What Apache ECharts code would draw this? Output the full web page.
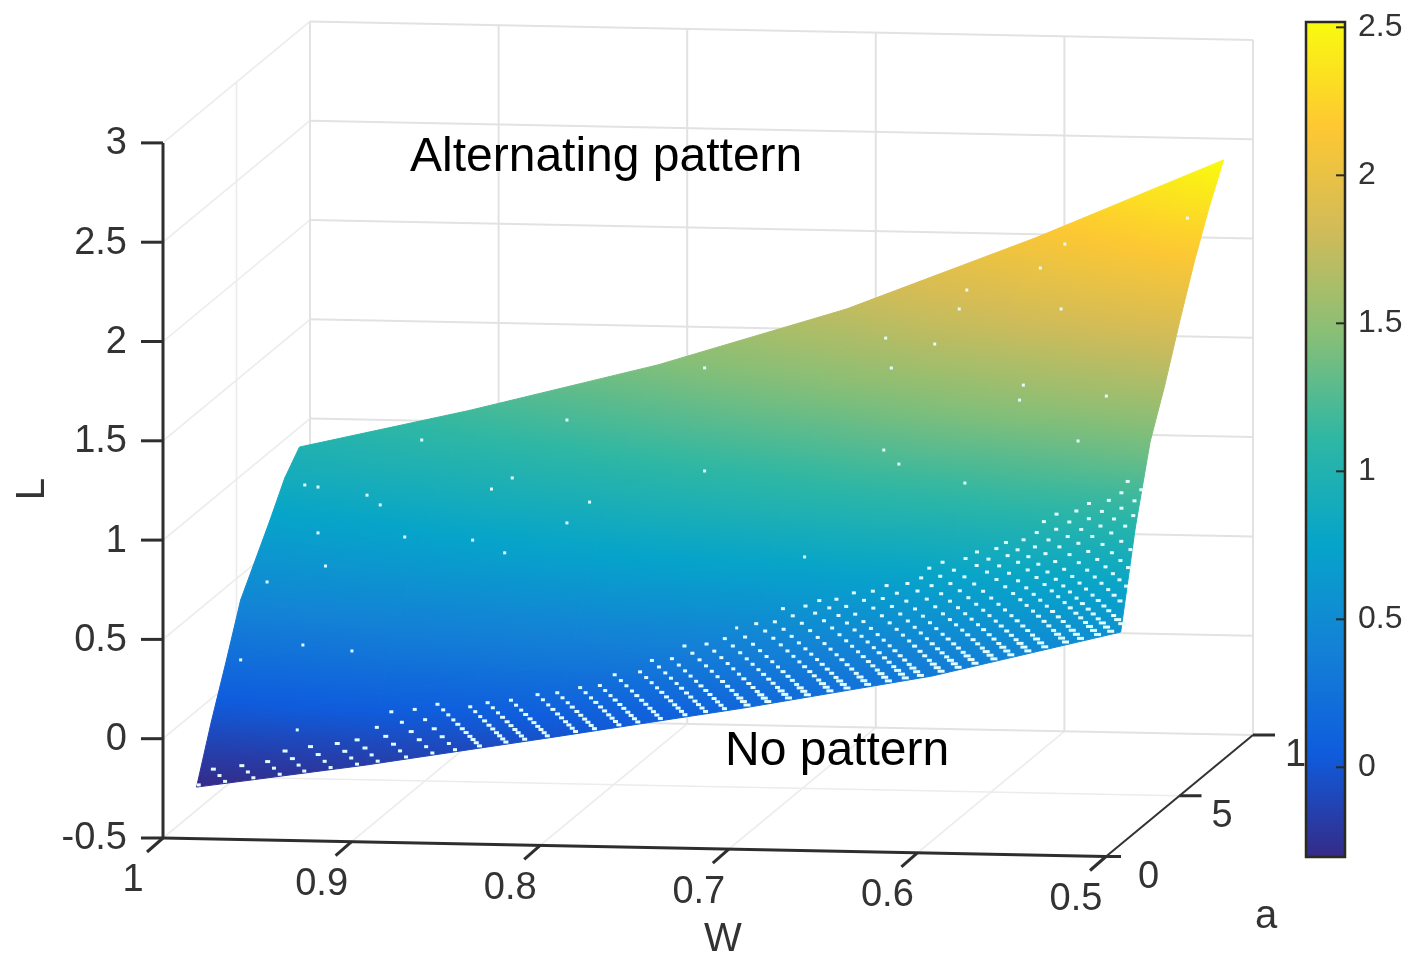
<!DOCTYPE html>
<html><head><meta charset="utf-8">
<style>html,body{margin:0;padding:0;background:#fff}#c{width:1411px;height:958px}</style>
<script src="https://cdn.jsdelivr.net/npm/echarts@6/dist/echarts.min.js"></script>
</head><body><div id="c"></div>
<script>
// ---- data ----
const wNodes = [0.99, 0.9, 0.8, 0.7, 0.6, 0.5];
const aNodes = [1, 2, 3, 4, 5, 6, 7, 8];
const L099 = [-0.303, -0.036, 0.204, 0.456, 0.596, 0.736, 0.886, 0.981];
const L090 = [-0.175, 0.124, 0.381, 0.598, 0.761, 0.924, 1.056, 1.182];
const L080 = [-0.015, 0.303, 0.577, 0.809, 0.982, 1.155, 1.296, 1.43];
const L070 = [0.149, 0.497, 0.797, 1.05, 1.24, 1.43, 1.583, 1.73];
const L060 = [0.329, 0.72, 1.058, 1.342, 1.555, 1.768, 1.941, 2.106];
const L050 = [0.569, 1.037, 1.404, 1.629, 1.885, 2.126, 2.337, 2.518];
const wTicks = [1, 0.9, 0.8, 0.7, 0.6, 0.5];
const aTicks = [0, 5, 10];
const lTicks = [-0.5, 0, 0.5, 1, 1.5, 2, 2.5, 3];
const cbTicks = [0, 0.5, 1, 1.5, 2, 2.5];
const cbMin = -0.303, cbMax = 2.518;
const parula = ['#352A87','#0F5CDD','#1481D6','#06A4CA','#2EB7A4','#87BF77','#D1BB59','#FEC832','#F9FB0E'];
// isolated holes in the surface, as [W, L] seen at a = 4
const specks = [[.956,1.041],[.949,1.032],[.923,.996],[.916,.948],[.903,.789],[.949,.801],[.945,.635],[.976,.549],
 [.990,.154],[.957,.235],[.931,.21],[.894,1.279],[.857,1.039],[.846,1.097],[.817,1.394],[.805,.983],[.817,.876],
 [.867,.78],[.85,.719],[.744,1.67],[.744,1.151],[.691,.728],[.648,1.838],[.622,1.813],[.645,1.688],[.649,1.274],
 [.641,1.205],[.606,1.116],[.605,2.088],[.609,1.992],[.555,2.002],[.566,2.206],[.553,2.329],[.488,2.472],
 [.575,1.615],[.577,1.539],[.531,1.568],[.546,1.339],[.727,.364],[.96,-.193]];
// diagonal rows of holes near the front edge: where each starts (W at a = 1) and how far it climbs (a)
const gapW = [.988,.974,.959,.945,.932,.918,.904,.893,.878,.864,.852,.839,.825,.815,.803,.788,.778,.765,.755,.743,.730,.719,
 .709,.697,.686,.675,.665,.653,.644,.633,.622,.613,.605,.594,.585,.576,.566,.557,.548,.539,.528,.520,.511,.504,
 .496,.487,.478,.469,.460,.451,.442,.433,.424];
const gapTop = [1.3,1.3,1.35,1.35,1.4,1.4,1.45,1.5,1.6,1.7,1.7,1.7,1.65,1.6,1.6,1.6,1.6,1.65,1.65,1.75,1.75,1.8,
 1.85,1.9,1.95,1.95,2,2.05,2.1,2.15,2.15,2.2,2.2,2.2,2.22,2.22,2.25,2.27,2.3,2.32,2.35,2.35,2.38,2.4,
 2.4,2.42,2.45,2.48,2.5,2.52,2.55,2.58,2.6];
const gapA = [1.03,1.08,1.13,1.18,1.24,1.30,1.37,1.44,1.52,1.60,1.69,1.79,1.90,2.02,2.15,2.29,2.44,2.60,2.77,2.95];

const lTable = [L099, L090, L080, L070, L060, L050];

// view of the 3-D box: W, a, L to the plane of the picture
function proj(W, a, L) {
  return [163 + (1 - W) * 1886 + a * 14.7, 838 + (1 - W) * 37 - a * 12.15 - (L + 0.5) * 198.6];
}
const FONT = '"Liberation Sans", Arial, sans-serif';

function lerpHex(c1, c2, t) {
  const p = (c, i) => parseInt(c.substr(1 + 2 * i, 2), 16);
  const m = i => Math.round(p(c1, i) + (p(c2, i) - p(c1, i)) * t);
  return 'rgb(' + m(0) + ',' + m(1) + ',' + m(2) + ')';
}
function colorAt(L) {
  let t = (L - cbMin) / (cbMax - cbMin);
  t = Math.max(0, Math.min(1, t)) * (parula.length - 1);
  const i = Math.min(parula.length - 2, Math.floor(t));
  return lerpHex(parula[i], parula[i + 1], t - i);
}

const cells = [];
for (let i = 0; i < wNodes.length - 1; i++) for (let j = 0; j < aNodes.length - 1; j++) cells.push([i, j]);

function renderCell(params, api) {
  const i = api.value(0), j = api.value(1);
  const idx = [[i, j], [i + 1, j], [i + 1, j + 1], [i, j + 1]];
  const pts = idx.map(n => api.coord(proj(wNodes[n[0]], aNodes[n[1]], lTable[n[0]][n[1]])));
  const vals = idx.map(n => lTable[n[0]][n[1]]);
  const mx = pts.reduce((s, p) => s + p[0], 0) / 4, my = pts.reduce((s, p) => s + p[1], 0) / 4, mv = vals.reduce((s, v) => s + v, 0) / 4;
  let sxx = 0, syy = 0, sxy = 0, sxv = 0, syv = 0;
  pts.forEach((p, k) => {
    const dx = p[0] - mx, dy = p[1] - my, dv = vals[k] - mv;
    sxx += dx * dx; syy += dy * dy; sxy += dx * dy; sxv += dx * dv; syv += dy * dv;
  });
  const det = sxx * syy - sxy * sxy;
  const gx = (sxv * syy - syv * sxy) / det, gy = (syv * sxx - sxv * sxy) / det;
  const g2 = gx * gx + gy * gy;
  const lo = mv - 1.2 * (mv - Math.min.apply(null, vals)), hi = mv + 1.2 * (Math.max.apply(null, vals) - mv);
  const x1 = mx + gx * (lo - mv) / g2, y1 = my + gy * (lo - mv) / g2;
  const x2 = mx + gx * (hi - mv) / g2, y2 = my + gy * (hi - mv) / g2;
  const stops = [];
  for (let k = 0; k <= 8; k++) stops.push({ offset: k / 8, color: colorAt(lo + (hi - lo) * k / 8) });
  const grad = new echarts.graphic.LinearGradient(x1, y1, x2, y2, stops, true);
  return { type: 'polygon', shape: { points: pts }, style: { fill: grad, stroke: grad, lineWidth: 1 } };
}

function lineSeries(rows, color, width, z, axisIndex) {
  const ai = axisIndex || 0;
  return {
    type: 'custom', coordinateSystem: 'cartesian2d', xAxisIndex: ai, yAxisIndex: ai, z: z, silent: true, clip: false,
    data: rows,
    renderItem: (p, api) => {
      const a = api.coord([api.value(0), api.value(1)]), b = api.coord([api.value(2), api.value(3)]);
      return { type: 'line', shape: { x1: a[0], y1: a[1], x2: b[0], y2: b[1] }, style: { stroke: color, lineWidth: width, fill: null } };
    }
  };
}
function seg(p, q) { return [p[0], p[1], q[0], q[1]]; }

// back wall grid
const gridRows = [];
lTicks.forEach(L => { gridRows.push(seg(proj(1, 10, L), proj(0.5, 10, L))); });
wTicks.forEach(W => { gridRows.push(seg(proj(W, 10, -0.5), proj(W, 10, 3))); });
// side wall and floor grid
const sideRows = [];
lTicks.forEach(L => { sideRows.push(seg(proj(1, 0, L), proj(1, 10, L))); });
wTicks.forEach(W => { sideRows.push(seg(proj(W, 0, -0.5), proj(W, 10, -0.5))); });
sideRows.push(seg(proj(1, 5, -0.5), proj(0.5, 5, -0.5)));
sideRows.push(seg(proj(1, 5, -0.5), proj(1, 5, 3)));

// axes and ticks
const axisRows = [
  seg(proj(1, 0, -0.5), proj(1, 0, 3)),
  seg(proj(1, 0, -0.5), proj(0.5, 0, -0.5))
];
const off = (p, dx, dy) => [p[0] + dx, p[1] + dy];
lTicks.forEach(L => { const p = proj(1, 0, L); axisRows.push(seg(p, off(p, -22, 0))); });
wTicks.forEach(W => { const p = proj(W, 0, -0.5); axisRows.push(seg(p, off(p, -16, 14))); });
aTicks.forEach(a => { const p = proj(0.5, a, -0.5); axisRows.push(seg(p, off(p, a === 0 ? 15 : 22, 0))); });
const aAxisRows = [seg(proj(0.5, 0, -0.5), proj(0.5, 10, -0.5))];

// tick labels
const labelRows = [];
lTicks.forEach(L => { const p = proj(1, 0, L); labelRows.push({ value: [p[0] - 36, p[1] + 1], t: String(L), align: 'right' }); });
wTicks.forEach(W => { const p = proj(W, 0, -0.5); labelRows.push({ value: [p[0] - 30, p[1] + 43], t: String(W), align: 'center' }); });
aTicks.forEach(a => { const p = proj(0.5, a, -0.5); labelRows.push({ value: [p[0] + 32, p[1] + 21], t: String(a), align: 'left' }); });

// colour bar ticks
const cbTickRows = cbTicks.map(v => [0.77, v, 1, v]);

// holes
const holes = specks.map(s => ({ value: proj(s[0], 4, s[1]), symbolSize: [3, 3] }));
gapW.forEach((w, n) => {
  const k = 0.036 + (0.99 - w) * 0.03;
  gapA.forEach((a0, r) => {
    if (a0 > gapTop[n]) return;
    if (w > 0.85 && r % 2 === 1) return;
    const a = a0 + (n % 2 ? (a0 - 1) * 0.03 : 0);
    const W = w + k * (a - 1);
    if (W > 0.99 || W < 0.5) return;
    let i = 0;
    while (i < wNodes.length - 2 && W < wNodes[i + 1]) i++;
    const f = (wNodes[i] - W) / (wNodes[i] - wNodes[i + 1]);
    const j = Math.min(aNodes.length - 2, Math.floor(a - 1));
    const g = a - aNodes[j];
    const L = (lTable[i][j] * (1 - f) + lTable[i + 1][j] * f) * (1 - g) + (lTable[i][j + 1] * (1 - f) + lTable[i + 1][j + 1] * f) * g;
    const low = w > 0.85 ? [4, 3] : (w > 0.7 ? [5, 3] : [7, 3]);
    holes.push({ value: proj(W, a, L), symbolSize: a < 1.15 ? low : (a < 1.4 ? [5, 3] : [4, 3]) });
  });
});

const option = {
  backgroundColor: '#fff',
  animation: false,
  tooltip: { show: false },
  grid: [
    { left: 0, right: 0, top: 0, bottom: 0 },
    { left: 1306, width: 39, top: 22, height: 835, z: 20 }
  ],
  xAxis: [
    { type: 'value', min: 0, max: 1411, show: false, gridIndex: 0 },
    { type: 'value', min: 0, max: 1, show: false, gridIndex: 1 }
  ],
  yAxis: [
    { type: 'value', min: 0, max: 958, inverse: true, show: false, gridIndex: 0 },
    {
      type: 'value', gridIndex: 1, position: 'right', min: cbMin, max: cbMax, z: 22,
      axisLine: { show: false }, splitLine: { show: false }, axisTick: { show: false },
      axisLabel: { show: true, customValues: cbTicks, margin: 13, color: '#333', fontFamily: FONT, fontSize: 32, formatter: v => String(v), hideOverlap: false }
    }
  ],
  series: [
    lineSeries(sideRows, '#ececec', 1.6, 1),
    lineSeries(gridRows, '#e2e2e2', 2, 1),
    {
      type: 'custom', coordinateSystem: 'cartesian2d', xAxisIndex: 0, yAxisIndex: 0, z: 2, silent: true, clip: false,
      data: cells, renderItem: renderCell
    },
    {
      type: 'scatter', coordinateSystem: 'cartesian2d', xAxisIndex: 0, yAxisIndex: 0, z: 3, silent: true,
      symbol: 'rect', data: holes, itemStyle: { color: '#dffcff', opacity: 1 }
    },
    lineSeries(axisRows, '#2e2e2e', 3, 4),
    lineSeries(aAxisRows, '#333', 2, 4),
    {
      type: 'custom', coordinateSystem: 'cartesian2d', xAxisIndex: 0, yAxisIndex: 0, z: 4, silent: true, clip: false,
      data: labelRows,
      renderItem: (p, api) => {
        const row = labelRows[p.dataIndex], c = api.coord(row.value);
        return { type: 'text', style: { text: row.t, x: c[0], y: c[1], align: row.align, verticalAlign: 'middle', fill: '#333', font: '38px ' + FONT } };
      }
    },
    {
      type: 'custom', coordinateSystem: 'cartesian2d', xAxisIndex: 1, yAxisIndex: 1, z: 20, silent: true, clip: false,
      data: [[0, cbMin, 1, cbMax]],
      renderItem: (p, api) => {
        const a = api.coord([api.value(0), api.value(1)]), b = api.coord([api.value(2), api.value(3)]);
        const stops = parula.map((c, i) => ({ offset: i / (parula.length - 1), color: c }));
        return {
          type: 'rect', shape: { x: a[0], y: b[1], width: b[0] - a[0], height: a[1] - b[1] },
          style: { fill: new echarts.graphic.LinearGradient(0, 1, 0, 0, stops), stroke: '#2a2a22', lineWidth: 2.5 }
        };
      }
    },
    lineSeries(cbTickRows, '#2a2a22', 2, 21, 1)
  ],
  graphic: [
    { type: 'text', left: 410, top: 134, z: 30, style: { text: 'Alternating pattern', font: '48px ' + FONT, fill: '#000' } },
    { type: 'text', left: 725, top: 728, z: 30, style: { text: 'No pattern', font: '48px ' + FONT, fill: '#000' } },
    { type: 'text', left: 704, top: 920, z: 30, style: { text: 'W', font: '40px ' + FONT, fill: '#333' } },
    { type: 'text', left: 1255, top: 897, z: 30, style: { text: 'a', font: '40px ' + FONT, fill: '#333' } },
    { type: 'text', left: 13, top: 478, z: 30, rotation: Math.PI / 2, style: { text: 'L', font: '40px ' + FONT, fill: '#333' } }
  ]
};
echarts.init(document.getElementById('c')).setOption(option);
</script></body></html>
